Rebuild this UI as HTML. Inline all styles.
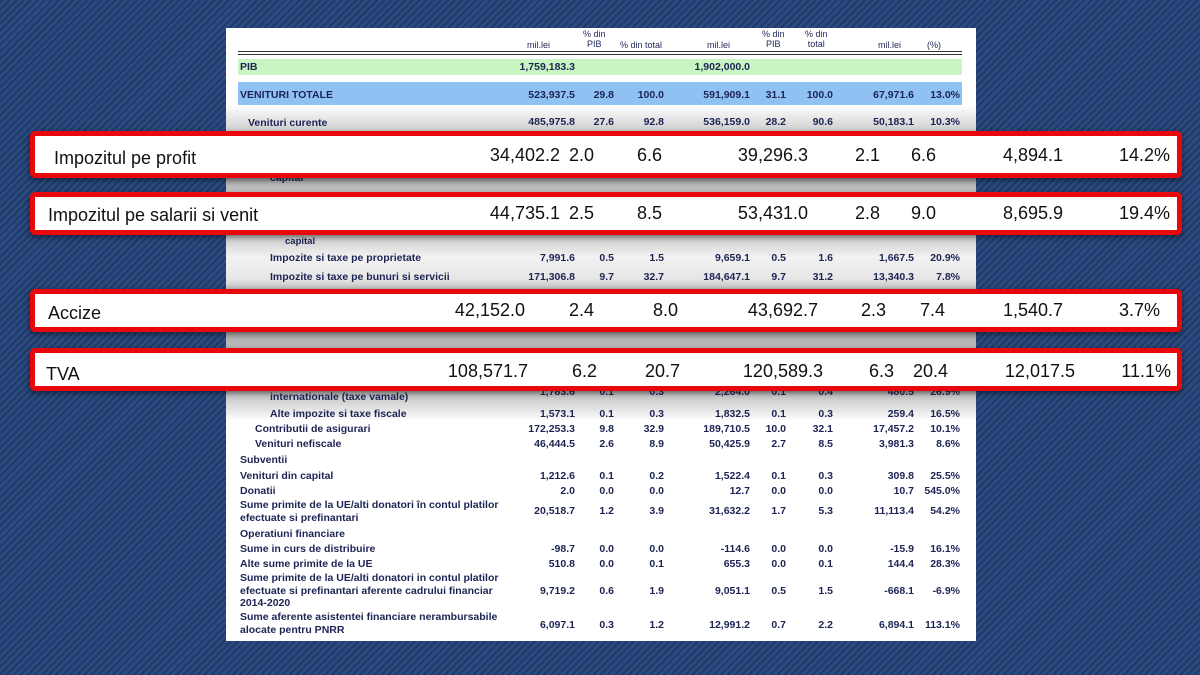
<!DOCTYPE html>
<html><head><meta charset="utf-8"><style>
*{margin:0;padding:0}
body{width:1200px;height:675px;overflow:hidden;position:relative;font-family:"Liberation Sans",sans-serif;
background:repeating-linear-gradient(-45deg,#2b4b80 0 3px,#1f3968 3px 5px);}
.doc{position:absolute;left:226px;top:28px;width:750px;height:613px;background:#fff}
.t{position:absolute;font-size:10.5px;font-weight:bold;color:#1d2454;white-space:nowrap;line-height:12.5px}
.h{position:absolute;font-size:9px;color:#1d2454;white-space:nowrap;text-align:center;line-height:10px}
.band{position:absolute;left:238px;width:724px}
.box{position:absolute;left:30px;width:1142px;background:#fff;border:5px solid #e8080c;border-radius:5px;box-shadow:0 2px 6px rgba(0,0,0,.5)}
.b{position:absolute;font-size:18px;color:#111;white-space:nowrap;line-height:20px}
.g{position:absolute;left:226px;width:750px}
</style></head><body>
<div class="doc"></div>
<div class="h" style="left:527px;top:40px">mil.lei</div>
<div class="h" style="left:583px;top:29px">% din<br>PIB</div>
<div class="h" style="left:620px;top:40px">% din total</div>
<div class="h" style="left:707px;top:40px">mil.lei</div>
<div class="h" style="left:762px;top:29px">% din<br>PIB</div>
<div class="h" style="left:805px;top:29px">% din<br>total</div>
<div class="h" style="left:878px;top:40px">mil.lei</div>
<div class="h" style="left:927px;top:40px">(%)</div>
<div class="band" style="top:51px;height:1px;background:#333"></div>
<div class="band" style="top:54px;height:1px;background:#333"></div>
<div class="band" style="top:59px;height:16px;background:#c9f5c2"></div>
<div class="band" style="top:82px;height:27px;background:#8fc1f3"></div>
<div class="t" style="left:240px;top:61px">PIB</div>
<div class="t" style="right:625px;top:61px">1,759,183.3</div>
<div class="t" style="right:450px;top:61px">1,902,000.0</div>
<div class="t" style="left:240px;top:89px">VENITURI TOTALE</div>
<div class="t" style="right:625px;top:89px">523,937.5</div><div class="t" style="right:586px;top:89px">29.8</div><div class="t" style="right:536px;top:89px">100.0</div>
<div class="t" style="right:450px;top:89px">591,909.1</div><div class="t" style="right:414px;top:89px">31.1</div><div class="t" style="right:367px;top:89px">100.0</div>
<div class="t" style="right:286px;top:89px">67,971.6</div><div class="t" style="right:240px;top:89px">13.0%</div>
<div class="g" style="top:105px;height:26px;background:linear-gradient(#fff,#cfcfcf)"></div>
<div class="t" style="left:248px;top:117px">Venituri curente</div>
<div class="t" style="right:625px;top:116px">485,975.8</div><div class="t" style="right:586px;top:116px">27.6</div><div class="t" style="right:536px;top:116px">92.8</div>
<div class="t" style="right:450px;top:116px">536,159.0</div><div class="t" style="right:414px;top:116px">28.2</div><div class="t" style="right:367px;top:116px">90.6</div>
<div class="t" style="right:286px;top:116px">50,183.1</div><div class="t" style="right:240px;top:116px">10.3%</div>
<div class="g" style="top:178px;height:15px;background:linear-gradient(#a8a8a8,#c8c8c8)"></div>
<div class="t" style="left:270px;top:172px">capital</div>
<div class="g" style="top:235px;height:55px;background:linear-gradient(#c8c8c8,#f2f2f2 40%,#e6e6e6 80%,#bdbdbd)"></div>
<div class="t" style="left:285px;top:236px;font-size:9.5px">capital</div>
<div class="t" style="left:270px;top:252px">Impozite si taxe pe proprietate</div>
<div class="t" style="right:625px;top:252px">7,991.6</div><div class="t" style="right:586px;top:252px">0.5</div><div class="t" style="right:536px;top:252px">1.5</div>
<div class="t" style="right:450px;top:252px">9,659.1</div><div class="t" style="right:414px;top:252px">0.5</div><div class="t" style="right:367px;top:252px">1.6</div>
<div class="t" style="right:286px;top:252px">1,667.5</div><div class="t" style="right:240px;top:252px">20.9%</div>
<div class="t" style="left:270px;top:271px">Impozite si taxe pe bunuri si servicii</div>
<div class="t" style="right:625px;top:271px">171,306.8</div><div class="t" style="right:586px;top:271px">9.7</div><div class="t" style="right:536px;top:271px">32.7</div>
<div class="t" style="right:450px;top:271px">184,647.1</div><div class="t" style="right:414px;top:271px">9.7</div><div class="t" style="right:367px;top:271px">31.2</div>
<div class="t" style="right:286px;top:271px">13,340.3</div><div class="t" style="right:240px;top:271px">7.8%</div>
<div class="g" style="top:332px;height:17px;background:linear-gradient(#aaa,#bdbdbd)"></div>
<div class="g" style="top:391px;height:30px;background:linear-gradient(#bbb,#fff)"></div>
<div class="t" style="left:270px;top:391px">internationale (taxe vamale)</div>
<div class="t" style="right:625px;top:386px">1,783.6</div><div class="t" style="right:586px;top:386px">0.1</div><div class="t" style="right:536px;top:386px">0.3</div>
<div class="t" style="right:450px;top:386px">2,264.0</div><div class="t" style="right:414px;top:386px">0.1</div><div class="t" style="right:367px;top:386px">0.4</div>
<div class="t" style="right:286px;top:386px">480.5</div><div class="t" style="right:240px;top:386px">26.9%</div>
<div class="box" style="top:131px;height:37px"></div>
<div class="box" style="top:192px;height:33px"></div>
<div class="box" style="top:289px;height:33px"></div>
<div class="box" style="top:348px;height:33px"></div>
<div class="b" style="left:54px;top:148px">Impozitul pe profit</div>
<div class="b" style="right:640px;top:145px">34,402.2</div><div class="b" style="right:606px;top:145px">2.0</div><div class="b" style="right:538px;top:145px">6.6</div>
<div class="b" style="right:392px;top:145px">39,296.3</div><div class="b" style="right:320px;top:145px">2.1</div><div class="b" style="right:264px;top:145px">6.6</div>
<div class="b" style="right:137px;top:145px">4,894.1</div><div class="b" style="right:30px;top:145px">14.2%</div>
<div class="b" style="left:48px;top:205px">Impozitul pe salarii si venit</div>
<div class="b" style="right:640px;top:203px">44,735.1</div><div class="b" style="right:606px;top:203px">2.5</div><div class="b" style="right:538px;top:203px">8.5</div>
<div class="b" style="right:392px;top:203px">53,431.0</div><div class="b" style="right:320px;top:203px">2.8</div><div class="b" style="right:264px;top:203px">9.0</div>
<div class="b" style="right:137px;top:203px">8,695.9</div><div class="b" style="right:30px;top:203px">19.4%</div>
<div class="b" style="left:48px;top:303px">Accize</div>
<div class="b" style="right:675px;top:300px">42,152.0</div><div class="b" style="right:606px;top:300px">2.4</div><div class="b" style="right:522px;top:300px">8.0</div>
<div class="b" style="right:382px;top:300px">43,692.7</div><div class="b" style="right:314px;top:300px">2.3</div><div class="b" style="right:255px;top:300px">7.4</div>
<div class="b" style="right:137px;top:300px">1,540.7</div><div class="b" style="right:40px;top:300px">3.7%</div>
<div class="b" style="left:46px;top:364px">TVA</div>
<div class="b" style="right:672px;top:361px">108,571.7</div><div class="b" style="right:603px;top:361px">6.2</div><div class="b" style="right:520px;top:361px">20.7</div>
<div class="b" style="right:377px;top:361px">120,589.3</div><div class="b" style="right:306px;top:361px">6.3</div><div class="b" style="right:252px;top:361px">20.4</div>
<div class="b" style="right:125px;top:361px">12,017.5</div><div class="b" style="right:29px;top:361px">11.1%</div>
<div class="t" style="left:270px;top:408px">Alte impozite si taxe fiscale</div>
<div class="t" style="left:255px;top:423px">Contributii de asigurari</div>
<div class="t" style="left:255px;top:438px">Venituri nefiscale</div>
<div class="t" style="left:240px;top:454px">Subventii</div>
<div class="t" style="left:240px;top:470px">Venituri din capital</div>
<div class="t" style="left:240px;top:485px">Donatii</div>
<div class="t" style="left:240px;top:499px">Sume primite de la UE/alti donatori în contul platilor<br>efectuate si prefinantari</div>
<div class="t" style="left:240px;top:528px">Operatiuni financiare</div>
<div class="t" style="left:240px;top:543px">Sume in curs de distribuire</div>
<div class="t" style="left:240px;top:558px">Alte sume primite de la UE</div>
<div class="t" style="left:240px;top:572px">Sume primite de la UE/alti donatori in contul platilor<br>efectuate si prefinantari aferente cadrului financiar<br>2014-2020</div>
<div class="t" style="left:240px;top:611px">Sume aferente asistentei financiare nerambursabile<br>alocate pentru PNRR</div>
<div class="t" style="right:625px;top:408px">1,573.1</div><div class="t" style="right:586px;top:408px">0.1</div><div class="t" style="right:536px;top:408px">0.3</div><div class="t" style="right:450px;top:408px">1,832.5</div><div class="t" style="right:414px;top:408px">0.1</div><div class="t" style="right:367px;top:408px">0.3</div><div class="t" style="right:286px;top:408px">259.4</div><div class="t" style="right:240px;top:408px">16.5%</div>
<div class="t" style="right:625px;top:423px">172,253.3</div><div class="t" style="right:586px;top:423px">9.8</div><div class="t" style="right:536px;top:423px">32.9</div><div class="t" style="right:450px;top:423px">189,710.5</div><div class="t" style="right:414px;top:423px">10.0</div><div class="t" style="right:367px;top:423px">32.1</div><div class="t" style="right:286px;top:423px">17,457.2</div><div class="t" style="right:240px;top:423px">10.1%</div>
<div class="t" style="right:625px;top:438px">46,444.5</div><div class="t" style="right:586px;top:438px">2.6</div><div class="t" style="right:536px;top:438px">8.9</div><div class="t" style="right:450px;top:438px">50,425.9</div><div class="t" style="right:414px;top:438px">2.7</div><div class="t" style="right:367px;top:438px">8.5</div><div class="t" style="right:286px;top:438px">3,981.3</div><div class="t" style="right:240px;top:438px">8.6%</div>
<div class="t" style="right:625px;top:470px">1,212.6</div><div class="t" style="right:586px;top:470px">0.1</div><div class="t" style="right:536px;top:470px">0.2</div><div class="t" style="right:450px;top:470px">1,522.4</div><div class="t" style="right:414px;top:470px">0.1</div><div class="t" style="right:367px;top:470px">0.3</div><div class="t" style="right:286px;top:470px">309.8</div><div class="t" style="right:240px;top:470px">25.5%</div>
<div class="t" style="right:625px;top:485px">2.0</div><div class="t" style="right:586px;top:485px">0.0</div><div class="t" style="right:536px;top:485px">0.0</div><div class="t" style="right:450px;top:485px">12.7</div><div class="t" style="right:414px;top:485px">0.0</div><div class="t" style="right:367px;top:485px">0.0</div><div class="t" style="right:286px;top:485px">10.7</div><div class="t" style="right:240px;top:485px">545.0%</div>
<div class="t" style="right:625px;top:505px">20,518.7</div><div class="t" style="right:586px;top:505px">1.2</div><div class="t" style="right:536px;top:505px">3.9</div><div class="t" style="right:450px;top:505px">31,632.2</div><div class="t" style="right:414px;top:505px">1.7</div><div class="t" style="right:367px;top:505px">5.3</div><div class="t" style="right:286px;top:505px">11,113.4</div><div class="t" style="right:240px;top:505px">54.2%</div>
<div class="t" style="right:625px;top:543px">-98.7</div><div class="t" style="right:586px;top:543px">0.0</div><div class="t" style="right:536px;top:543px">0.0</div><div class="t" style="right:450px;top:543px">-114.6</div><div class="t" style="right:414px;top:543px">0.0</div><div class="t" style="right:367px;top:543px">0.0</div><div class="t" style="right:286px;top:543px">-15.9</div><div class="t" style="right:240px;top:543px">16.1%</div>
<div class="t" style="right:625px;top:558px">510.8</div><div class="t" style="right:586px;top:558px">0.0</div><div class="t" style="right:536px;top:558px">0.1</div><div class="t" style="right:450px;top:558px">655.3</div><div class="t" style="right:414px;top:558px">0.0</div><div class="t" style="right:367px;top:558px">0.1</div><div class="t" style="right:286px;top:558px">144.4</div><div class="t" style="right:240px;top:558px">28.3%</div>
<div class="t" style="right:625px;top:585px">9,719.2</div><div class="t" style="right:586px;top:585px">0.6</div><div class="t" style="right:536px;top:585px">1.9</div><div class="t" style="right:450px;top:585px">9,051.1</div><div class="t" style="right:414px;top:585px">0.5</div><div class="t" style="right:367px;top:585px">1.5</div><div class="t" style="right:286px;top:585px">-668.1</div><div class="t" style="right:240px;top:585px">-6.9%</div>
<div class="t" style="right:625px;top:619px">6,097.1</div><div class="t" style="right:586px;top:619px">0.3</div><div class="t" style="right:536px;top:619px">1.2</div><div class="t" style="right:450px;top:619px">12,991.2</div><div class="t" style="right:414px;top:619px">0.7</div><div class="t" style="right:367px;top:619px">2.2</div><div class="t" style="right:286px;top:619px">6,894.1</div><div class="t" style="right:240px;top:619px">113.1%</div>
</body></html>
